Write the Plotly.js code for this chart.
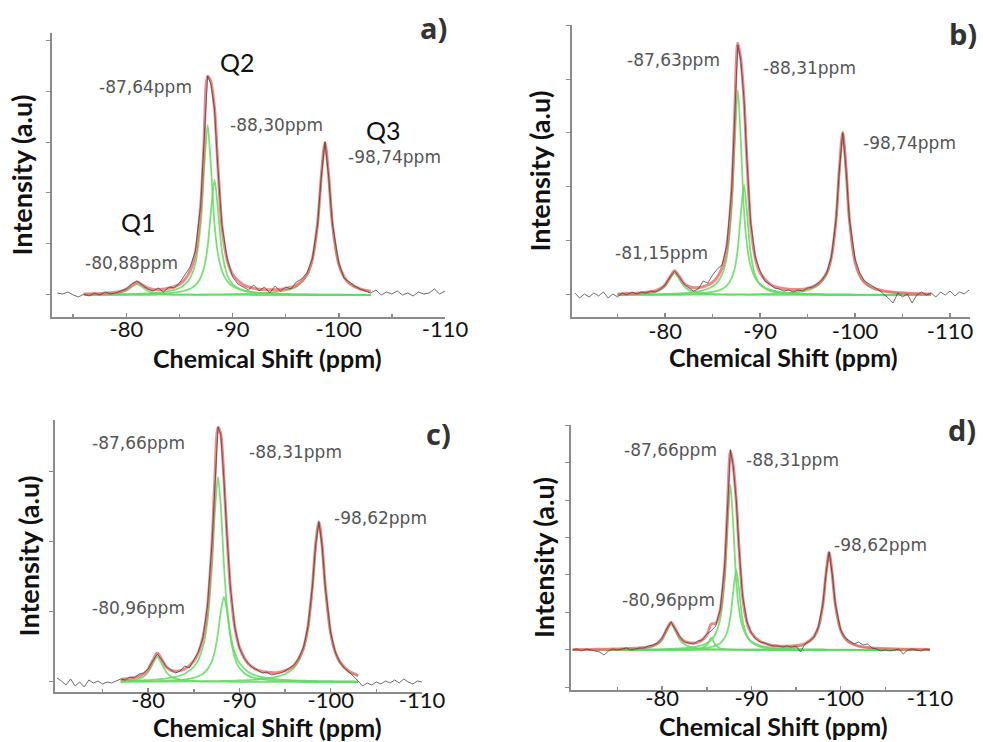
<!DOCTYPE html>
<html><head><meta charset="utf-8">
<script src="https://cdn.plot.ly/plotly-3.0.1.min.js"></script>
<style>html,body{margin:0;padding:0;background:#fff}#chart{width:983px;height:742px}</style>
</head><body><div id="chart"></div>
<script>
// chemical shift grid (ppm) for fitted curves
const fitX = [-70,-72,-74,-75,-76,-77,-78,-79,-79.5,-80,-80.5,-81,-81.5,-82,-82.5,-83,-84,-85,-85.5,-86,
  -86.5,-87,-87.3,-87.65,-87.95,-88.3,-88.6,-89,-89.5,-90,-91,-92,-93,-94,-95,-96,-97,-97.5,-98,-98.35,
  -98.7,-99.05,-99.4,-100,-100.5,-101,-102,-103,-104,-106,-108,-110];
// chemical shift grid (ppm) for measured spectra
const grayX = [-70,-70.5,-71,-71.5,-72,-72.5,-73,-73.5,-74,-74.5,-75,-75.5,-76,-76.5,-77,-77.5,-78,-78.5,-79,-79.5,-80,-80.5,-81,-81.5,-82,-82.5,-83,-83.5,-84,-84.5,-85,-85.5,
  -86,-86.5,-87,-87.3,-87.65,-87.95,-88.3,-88.6,-89,-89.5,-90,
  -90.5,-91,-91.5,-92,-92.5,-93,-93.5,-94,-94.5,-95,-95.5,-96,-96.5,-97,-97.5,-98,
  -98.35,-98.7,-99.05,-99.4,-100,
  -100.5,-101,-101.5,-102,-102.5,-103,-103.5,-104,-104.5,-105,-105.5,-106,-106.5,-107,-107.5,-108,-108.5,-109,-109.5,-110,-110.5,-111,-111.5,-112];

// ---- panel a ----
const aGray = [null,null,null,null,null,null,null,2,1,3,0,-2,1,-1,2,0,3,1,2,4,6,11,14,10,6,4,7,3,8,7,12,20,
  28,44,90,150,219,212,186,130,70,36,18,
  11,8,5,10,4,8,2,9,4,8,6,13,16,22,36,70,
  118,153,118,71,32,
  17,13,9,6,4,2,5,0,3,1,4,0,2,-1,3,1,2,6,1,4,null,null,null,null];
const aFit = [null,null,null,null,1.0,1.3,1.7,2.8,3.8,5.9,9.7,13.1,10.1,7.0,5.5,5.3,6.7,10.8,15.5,23.9,42,89.1,148.4,218.7,213.6,186.6,132.1,68.8,34.7,20.7,10.2,6.6,5.3,5.3,6.3,9.6,20.5,35.4,71.3,118.5,152.7,118.5,71.1,31,18,11.7,6.2,3.8,null,null,null,null];
const aQ1 = [null,null,null,null,.3,.4,.7,1.5,2.4,4.3,7.9,11,7.9,4.3,2.4,1.5,.7,.4,.3,.3,.2,.2,.2,.2,.1,.1,.1,.1,.1,.1,.1,0,0,0,0,0,0,0,0,0,0,0,0,0,0,0,0,0,null,null,null,null];
const aQ2a = [null,null,null,null,.4,.5,.5,.7,.8,.9,1.0,1.2,1.3,1.6,1.9,2.3,3.8,7.0,10.5,17,31.6,70.9,121,170,131,70.9,42.7,24.1,13.8,8.8,4.5,2.7,1.8,1.3,1.0,.7,.6,.5,.5,.4,.4,.4,.4,.3,.3,.3,.3,.2,null,null,null,null];
const aQ2b = [null,null,null,null,.2,.3,.3,.4,.4,.5,.6,.7,.7,.9,1.0,1.2,1.9,3.1,4.3,6.2,9.8,17.5,26.7,48,81.9,115,88.7,43.9,20,10.9,4.6,2.5,1.6,1.1,.8,.6,.5,.4,.4,.3,.3,.3,.3,.3,.2,.2,.2,.2,null,null,null,null];
const aQ3 = [null,null,null,null,.1,.1,.2,.2,.2,.2,.2,.2,.2,.2,.2,.3,.3,.3,.4,.4,.4,.5,.5,.5,.6,.6,.6,.7,.8,.9,1.1,1.4,1.9,2.9,4.5,8.3,19.4,34.5,70.4,117.8,152,117.8,70.4,30.4,17.5,11.2,5.7,3.4,null,null,null,null];

// ---- panel b ----
const bGray = [null,2,-3,1,-2,2,-1,3,-3,1,-2,2,0,3,1,3,2,4,3,6,10,18,24,18,11,7,4,6,14,12,20,26,
  30,50,104,172,250,236,197,138,73,38,24,
  14,11,7,6,4,5,3,5,4,7,8,11,15,22,38,76,
  126,162,126,76,36,
  22,14,11,8,5,1,-3,-8,2,-2,1,-8,0,3,0,2,-2,3,0,4,-1,3,1,5];
const bFit = [null,null,null,1.1,1.4,1.8,2.7,4.4,6.4,10.3,17.8,24.2,18.3,11.5,8.5,7.3,8.2,12.7,17.8,27.4,48.5,103.1,172.3,251.8,237.2,196.4,137.2,72,36.7,22.2,11.1,7.2,5.8,5.5,6.6,10.4,21.8,37.7,76,126.4,162.8,126.4,75.8,33,19.3,12.5,6.5,4.1,2.7,1.6,1.0,null];
const bQ1 = [null,null,null,.4,.6,.8,1.5,3.0,4.9,8.6,15.8,22,15.8,8.6,4.9,3.0,1.5,.8,.7,.6,.5,.4,.3,.3,.3,.3,.2,.2,.2,.2,.1,.1,.1,.1,.1,.1,0,0,0,0,0,0,0,0,0,0,0,0,0,0,0,null];
const bQ2a = [null,null,null,.4,.5,.6,.7,.8,.9,1.0,1.2,1.4,1.6,1.9,2.3,2.8,4.6,8.5,12.6,20.5,38.1,85.5,146,205,158,85.5,51.5,29.1,16.6,10.7,5.4,3.2,2.2,1.5,1.1,.9,.7,.6,.6,.5,.5,.5,.5,.4,.4,.3,.3,.3,.2,.2,.1,null];
const bQ2b = [null,null,null,.2,.2,.3,.3,.4,.4,.5,.6,.6,.7,.8,1.0,1.2,1.8,3.0,4.1,5.9,9.4,16.7,25.5,45.9,78.3,110,84.8,42,19.1,10.4,4.4,2.4,1.5,1.0,.7,.6,.4,.4,.4,.3,.3,.3,.3,.2,.2,.2,.2,.2,.1,.1,.1,null];
const bQ3 = [null,null,null,.1,.1,.1,.2,.2,.2,.2,.2,.2,.2,.2,.3,.3,.3,.4,.4,.4,.5,.5,.5,.6,.6,.6,.7,.7,.8,.9,1.2,1.5,2.1,3.0,4.8,8.9,20.7,36.7,75,125.6,162,125.6,75,32.4,18.7,12,6.0,3.6,2.4,1.3,.8,null];

// ---- panel c ----
const cGray = [4,1,-3,3,-4,0,-5,2,-1,1,-2,0,-1,1,3,2,5,4,8,9,13,21,28,22,15,12,9,11,16,14,22,30,
  44,76,140,200,255,248,203,152,95,54,34,
  24,18,14,12,9,10,7,8,9,11,14,17,24,34,55,96,
  137,160,137,96,49,
  30,20,14,10,6,1,-4,-1,-3,0,-2,1,-1,2,-1,3,0,-2,1,0,null,null,null,null];
const cFit = [null,null,null,null,null,2.6,3.7,5.8,8.1,12.7,21.4,28.9,22.4,14.9,11.6,10.8,13,21,29.4,44.6,75.1,139.4,200.2,254.8,247.8,203.3,153.4,95.2,54.4,34.6,18,11.9,9.7,9.3,11.3,16.8,33.7,54.9,96.4,137.4,160.3,137.2,96,48.7,30,20.1,10.8,6.7,null,null,null,null];
const cQ1 = [null,null,null,null,null,1.0,1.7,3.4,5.5,9.8,18,25,18,9.8,5.5,3.4,1.7,1.0,.8,.6,.5,.4,.4,.4,.3,.3,.3,.2,.2,.2,.2,.1,.1,.1,.1,.1,0,0,0,0,0,0,0,0,0,0,0,0,null,null,null,null];
const cQ2a = [null,null,null,null,null,1.0,1.2,1.5,1.7,1.9,2.3,2.6,3.0,3.5,4.3,5.2,8.3,15.2,22.2,35.1,61.2,117,168.3,205,176.7,117,78.7,48.4,28.9,19,9.8,5.9,4.0,2.8,2.1,1.6,1.3,1.2,1.1,1.0,.9,.9,.8,.8,.7,.7,.6,.5,null,null,null,null];
const cQ2b = [null,null,null,null,null,.4,.5,.6,.6,.7,.8,.9,1.0,1.2,1.4,1.7,2.5,4.2,5.7,8.2,12.6,21.2,30.6,48.5,69.8,85,73.3,45.4,23.9,13.9,6.1,3.4,2.1,1.4,1.1,.8,.6,.6,.5,.5,.4,.4,.4,.3,.3,.3,.3,.2,null,null,null,null];
const cQ3 = [null,null,null,null,null,.2,.3,.3,.3,.3,.3,.4,.4,.4,.4,.5,.5,.6,.7,.7,.8,.8,.9,.9,1.0,1.0,1.1,1.2,1.4,1.5,1.9,2.5,3.5,5.0,8.0,14.3,31.8,53.1,94.8,135.9,159,135.9,94.8,47.6,29,19.1,9.9,6.0,null,null,null,null];

// ---- panel d ----
const dGray = [0,1,-1,1,0,-1,-2,-5,-1,1,0,1,2,0,1,2,2,4,5,7,12,21,28,21,13,8,7,6,9,10,16,19,
  24,40,83,138,200,185,150,104,55,28,17,
  11,8,7,5,4,4,3,4,3,4,-2,6,9,13,23,46,
  76,98,76,46,20,
  12,9,6,8,5,6,2,1,-1,0,-1,0,1,-4,0,1,0,-1,1,0,null,null,null,null];
const dFit = [.4,.6,.8,1.0,1.4,1.7,2.5,4.7,6.9,11.5,20.3,27.8,20.7,12.6,8.8,7.3,7.7,14.9,26.1,26.5,40,82.6,137.4,199.5,185.2,149.7,104,54.8,28,16.9,8.4,5.3,4.1,3.8,4.4,6.5,13.4,22.9,45.8,75.9,97.7,75.9,45.6,20,11.7,7.7,3.9,2.5,1.7,1.0,.7,.4];
const dQ1 = [.1,.2,.3,.5,.7,1.0,1.7,3.6,5.8,10.1,18.7,26,18.7,10.1,5.8,3.6,1.7,1.0,.8,.7,.5,.5,.4,.4,.3,.3,.3,.3,.2,.2,.2,.1,.1,.1,.1,.1,.1,.1,.1,.1,.1,.1,.1,.1,0,0,0,0,0,0,0,0];
const dQs = [0,0,0,0,0,0,0,0,0,.1,.1,.1,.1,.2,.2,.3,.8,4.7,12,4.7,1.7,.8,.6,.4,.3,.2,.2,.1,0,0,0,0,0,0,0,0,0,0,0,0,0,0,0,0,0,0,0,0,0,0,0,0];
const dQ2a = [.2,.2,.3,.3,.4,.4,.5,.7,.7,.8,1.0,1.1,1.3,1.6,1.9,2.3,3.7,6.8,10.1,16.5,30.7,68.8,117.5,165,127.2,68.8,41.4,23.4,13.4,8.6,4.3,2.6,1.7,1.2,.9,.7,.6,.5,.5,.4,.4,.4,.4,.3,.3,.3,.2,.2,.2,.1,.1,.1];
const dQ2b = [.1,.1,.1,.1,.2,.2,.2,.3,.3,.4,.4,.5,.5,.6,.7,.9,1.3,2.2,3.0,4.3,6.8,12.2,18.6,33.4,57,80,61.7,30.6,13.9,7.6,3.2,1.7,1.1,.7,.5,.4,.3,.3,.3,.2,.2,.2,.2,.2,.2,.2,.1,.1,.1,.1,.1,0];
const dQ3 = [0,.1,.1,.1,.1,.1,.1,.1,.1,.1,.1,.1,.1,.1,.2,.2,.2,.2,.2,.3,.3,.3,.3,.3,.4,.4,.4,.4,.5,.5,.7,.9,1.2,1.8,2.9,5.3,12.4,22,44.9,75.2,97,75.2,44.9,19.4,11.2,7.2,3.6,2.2,1.4,.8,.5,.3];

// tick labels
const xTickVals = [-80,-90,-100,-110];
const xTickText = ['-80','-90','-100','-110'];
const xMinorVals = [-75,-85,-95,-105];

// texts
const aLabels = ['-87,64ppm','-88,30ppm','-98,74ppm','-80,88ppm'];
const bLabels = ['-87,63ppm','-88,31ppm','-98,74ppm','-81,15ppm'];
const cLabels = ['-87,66ppm','-88,31ppm','-98,62ppm','-80,96ppm'];
const dLabels = ['-87,66ppm','-88,31ppm','-98,62ppm','-80,96ppm'];
const qLabels = ['Q1','Q2','Q3'];
const panelTags = ['a)','b)','c)','d)'];
const xTitle = 'Chemical Shift (ppm)';
const yTitle = 'Intensity (a.u)';

const GREEN = 'rgba(95,220,95,0.85)';
const RED = 'rgba(240,105,105,0.8)';
const GRAY = 'rgba(70,70,70,0.8)';

const panels = [
  {xa:'x',  ya:'y',  gray:aGray, fit:aFit, comps:[aQ1,aQ2a,aQ2b,aQ3]},
  {xa:'x2', ya:'y2', gray:bGray, fit:bFit, comps:[bQ1,bQ2a,bQ2b,bQ3]},
  {xa:'x3', ya:'y3', gray:cGray, fit:cFit, comps:[cQ1,cQ2a,cQ2b,cQ3]},
  {xa:'x4', ya:'y4', gray:dGray, fit:dFit, comps:[dQ1,dQs,dQ2a,dQ2b,dQ3]}
];

const traces = [];
panels.forEach(p => {
  p.comps.forEach(c => traces.push({x:fitX, y:c, xaxis:p.xa, yaxis:p.ya, mode:'lines',
    line:{color:GREEN, width:1.8, shape:'spline', smoothing:0.8}, hoverinfo:'skip', showlegend:false}));
  traces.push({x:fitX, y:p.fit, xaxis:p.xa, yaxis:p.ya, mode:'lines',
    line:{color:RED, width:3, shape:'spline', smoothing:0.8}, showlegend:false});
  traces.push({x:grayX, y:p.gray, xaxis:p.xa, yaxis:p.ya, mode:'lines',
    line:{color:GRAY, width:1}, showlegend:false});
});

const FAM = 'Lato, "Open Sans", sans-serif';
const TICKFONT = {family:FAM, size:22, color:'#111'};
function xax(dom, rng, anchor, lst){
  return {domain:dom, range:rng, anchor:anchor, showline:true, linecolor:'#8a8a8a', linewidth:2,
    showgrid:false, zeroline:false, ticks:'inside', ticklen:4, tickcolor:'#8a8a8a', tickwidth:1.5,
    tickmode:'array', tickvals:xTickVals, ticktext:xTickText, tickfont:TICKFONT, ticklabelstandoff:lst,
    minor:{tickmode:'array', tickvals:xMinorVals, ticks:'inside', ticklen:3, tickcolor:'#8a8a8a'},
    automargin:false, fixedrange:true};
}
function yax(dom, rng, anchor, dt, st){
  return {domain:dom, range:rng, anchor:anchor, showline:true, linecolor:'#8a8a8a', linewidth:2,
    showgrid:false, zeroline:false, showticklabels:false, ticks:'outside', ticklen:4, tickcolor:'#8a8a8a',
    tickmode:'linear', tick0:0, dtick:dt, automargin:false, fixedrange:true,
    title:{text:'<b>'+yTitle+'</b>', font:{family:FAM, size:27, color:'#111'}, standoff:st}};
}

const ANNF = {family:'"DejaVu Sans", sans-serif', size:17, color:'#555'};
const QF = {family:FAM, size:25, color:'#111'};
const TAGF = {family:'"Open Sans", sans-serif', size:29, color:'#333'};
const XTF = {family:FAM, size:25, color:'#111'};
function ann(xr, yr, x, y, text, font){
  return {xref:xr, yref:yr, x:x, y:y, text:text, showarrow:false, font:font, xanchor:'center', yanchor:'middle', borderpad:0};
}
const annotations = [
  ann('x','y',-81.8,208,aLabels[0],ANNF), ann('x','y',-94.1,170,aLabels[1],ANNF),
  ann('x','y',-105.2,138,aLabels[2],ANNF), ann('x','y',-80.5,32,aLabels[3],ANNF),
  ann('x','y',-81.1,73,qLabels[0],QF), ann('x','y',-90.5,233,qLabels[1],QF), ann('x','y',-104.2,165,qLabels[2],QF),
  ann('x2','y2',-80.9,235,bLabels[0],ANNF), ann('x2','y2',-95.2,227,bLabels[1],ANNF),
  ann('x2','y2',-105.7,152,bLabels[2],ANNF), ann('x2','y2',-79.6,42,bLabels[3],ANNF),
  ann('x3','y3',-78.9,239,cLabels[0],ANNF), ann('x3','y3',-96.1,230,cLabels[1],ANNF),
  ann('x3','y3',-105.4,164,cLabels[2],ANNF), ann('x3','y3',-78.9,74,cLabels[3],ANNF),
  ann('x4','y4',-80.9,200,dLabels[0],ANNF), ann('x4','y4',-94.6,190,dLabels[1],ANNF),
  ann('x4','y4',-104.4,105,dLabels[2],ANNF), ann('x4','y4',-80.7,50,dLabels[3],ANNF),
  // panel tags
  ann('paper','paper',0.4405,0.9636,'<b>'+panelTags[0]+'</b>',TAGF),
  ann('paper','paper',0.9797,0.9555,'<b>'+panelTags[1]+'</b>',TAGF),
  ann('paper','paper',0.4456,0.4164,'<b>'+panelTags[2]+'</b>',TAGF),
  ann('paper','paper',0.9786,0.4205,'<b>'+panelTags[3]+'</b>',TAGF),
  // x-axis titles
  ann('paper','paper',267/983,1-358/742,'<b>'+xTitle+'</b>',XTF),
  ann('paper','paper',783/983,1-357/742,'<b>'+xTitle+'</b>',XTF),
  ann('paper','paper',267/983,1-727/742,'<b>'+xTitle+'</b>',XTF),
  ann('paper','paper',773/983,1-726/742,'<b>'+xTitle+'</b>',XTF)
];

const layout = {
  width:983, height:742, margin:{l:0,r:0,t:0,b:0}, paper_bgcolor:'#fff', plot_bgcolor:'#fff',
  showlegend:false,
  xaxis: xax([0.0529,0.4527],[-73,-110],'y',-8),
  yaxis: yax([0.5728,0.9555],[-22,262],'x',51,6),
  xaxis2: xax([0.5819,0.9868],[-70.2,-112.1],'y2',-6),
  yaxis2: yax([0.5728,0.9663],[-22,270],'x2',54,8),
  xaxis3: xax([0.0560,0.4293],[-69.8,-110],'y3',-12),
  yaxis3: yax([0.0674,0.4340],[-10,262],'x3',70,2),
  xaxis4: xax([0.5809,0.9461],[-69.8,-110],'y4',-12),
  yaxis4: yax([0.0701,0.4272],[-40,225],'x4',37.5,3),
  annotations: annotations
};

Plotly.newPlot('chart', traces, layout, {displayModeBar:false, staticPlot:true});
</script></body></html>
